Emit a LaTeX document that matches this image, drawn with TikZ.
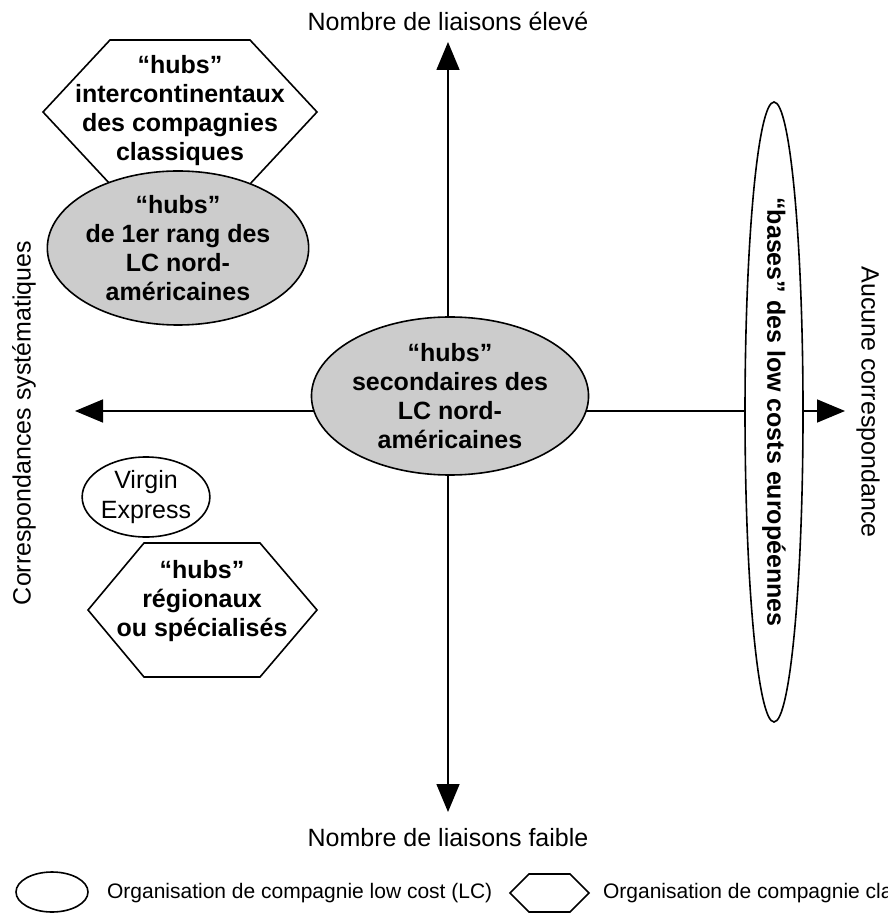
\documentclass[tikz,border=0pt]{standalone}
\usepackage{fontspec}
\setmainfont{Liberation Sans}
\usetikzlibrary{arrows.meta, positioning, shapes.geometric}
\definecolor{hubgrey}{RGB}{204,204,204}

\begin{document}
\begin{tikzpicture}[
  x=0.5pt, y=-0.5pt,
  axe/.style={-{Triangle[length=14pt, width=11.5pt]}, line width=0.8pt},
  lbl/.style={font=\fontsize{12.5}{15}\selectfont},
  legtxt/.style={font=\fontsize{10.5}{12}\selectfont, anchor=west},
  hubtxt/.style={align=center, font=\bfseries\fontsize{12.5}{14.5}\selectfont},
  lcnode/.style={draw, ellipse, line width=0.8pt, inner sep=0pt, align=center,
    font=\bfseries\fontsize{12.5}{14.5}\selectfont},
  hexa/.style={draw, line width=0.8pt, fill=white}
]
\useasboundingbox (0,0) rectangle (887,913);

% axes
\coordinate (o) at (448,411);
\coordinate (haut) at (448,42);
\coordinate (bas) at (448,812);
\coordinate (gauche) at (75,411);
\coordinate (droite) at (845,411);
\draw[axe] (o) -- (haut);
\draw[axe] (o) -- (bas);
\draw[axe] (o) -- (gauche);
\draw[axe] (o) -- (droite);

\node[lbl] (eleve) at (448,21) {Nombre de liaisons élevé};
\node[lbl] (faible) at (448,838) {Nombre de liaisons faible};
\node[lbl, rotate=90] (systematique) at (24,423) {Correspondances systématiques};
\node[lbl, rotate=-90] (aucune) at (868,402) {Aucune correspondance};

% hubs des compagnies classiques
\draw[hexa] (43,112) -- (110,40) -- (250,40) -- (317,112) -- (250,184) -- (110,184) -- cycle;
\node[hubtxt] (inter) at (180,111) {“hubs”\\intercontinentaux\\des compagnies\\classiques};

% organisations low cost
\node[lcnode, fill=hubgrey, minimum width=123pt, minimum height=77pt] (rang1) at (178,248)
  {“hubs”\\de 1er rang des\\LC nord-\\américaines};
\node[lcnode, fill=hubgrey, minimum width=125pt, minimum height=79pt] (second) at (450,396)
  {“hubs”\\secondaires des\\LC nord-\\américaines};
\node[lcnode, fill=white, rotate=-90, minimum width=310pt, minimum height=29pt] (bases) at (774,412)
  {“bases” des low costs européennes};
\node[lcnode, fill=white, minimum width=56pt, minimum height=40pt,
  font=\fontsize{12.5}{15}\selectfont] (virgin) at (146,497) {Virgin\\Express};

\draw[hexa] (88,610) -- (144,543) -- (260,543) -- (317,610) -- (260,677) -- (144,677) -- cycle;
\node[hubtxt] (regio) at (202,601) {“hubs”\\régionaux\\ou spécialisés};

% legende
\node[draw, ellipse, line width=0.8pt, minimum width=36pt, minimum height=20pt] (legLC) at (52,892) {};
\node[legtxt] (txtLC) at (100,893) {Organisation de compagnie low cost (LC)};
\draw[hexa] (510,893) -- (529,874) -- (570,874) -- (589,893) -- (570,912) -- (529,912) -- cycle;
\node[legtxt] (txtCL) at (596,893) {Organisation de compagnie classique};
\end{tikzpicture}
\end{document}
